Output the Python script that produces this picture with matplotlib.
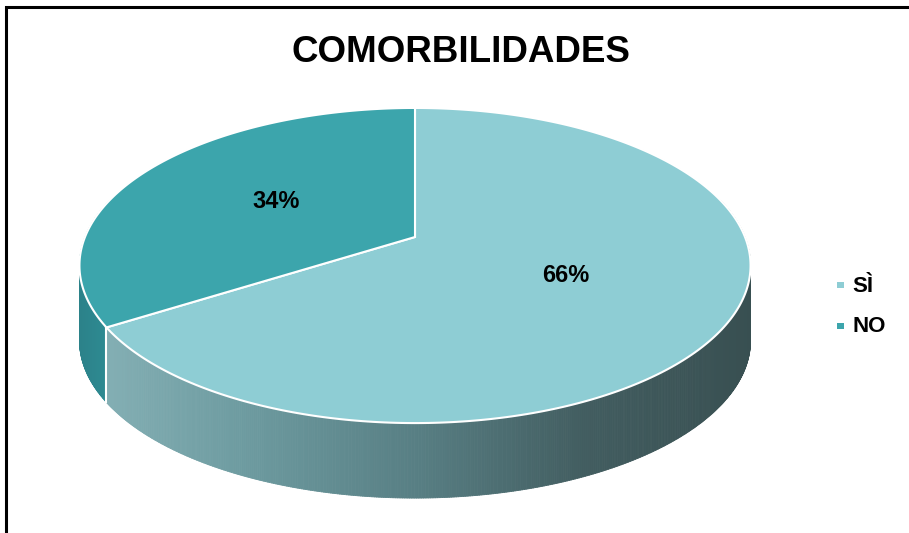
import numpy as np
import matplotlib
matplotlib.use("Agg")
import matplotlib.pyplot as plt
from matplotlib.patches import Polygon
from matplotlib.collections import PolyCollection
from matplotlib.colors import LinearSegmentedColormap

plt.rcParams['font.family'] = ['Liberation Sans', 'DejaVu Sans']

# Data
title = "COMORBILIDADES"
categories = ["SÌ", "NO"]
percentages = [66, 34]

top_colors = ["#8ecdd4", "#3ca5ac"]
side_cmaps = [
    LinearSegmentedColormap.from_list("si_side", ["#88b3b8", "#6d9ba0", "#587f84", "#425d60", "#384f51"]),
    LinearSegmentedColormap.from_list("no_side", ["#2b8088", "#31949b"]),
]

W, H, DPI = 909, 533, 100
fig = plt.figure(figsize=(W / DPI, H / DPI), dpi=DPI)
ax = fig.add_axes([0, 0, 1, 1])
ax.set_xlim(0, W)
ax.set_ylim(H, 0)
ax.axis("off")

# Perspective projection of a tilted disc
cx, cy = 415.0, 237.0
A, B, k = 330.0, 152.4, 0.181
depth = 75.0


def project(theta_deg, r=1.0, dz=0.0):
    t = np.radians(theta_deg)
    X = r * np.cos(t)
    Y = r * np.sin(t)
    w = 1 + k * Y
    return cx + A * X / w, cy - B * Y / w + dz


# Slice angle ranges: start at 12 o'clock, go clockwise
total = sum(percentages)
spans = []
start = 90.0
for p in percentages:
    sweep = 360.0 * p / total
    spans.append((start - sweep, start))
    start -= sweep

# Side wall: small quads sorted back to front
quads, qcolors, qdepth = [], [], []
x_lo, x_hi = cx - A * 1.03, cx + A * 1.03
for i, (a0, a1) in enumerate(spans):
    ths = np.linspace(a0, a1, max(int((a1 - a0) * 3), 4))
    for t0, t1 in zip(ths[:-1], ths[1:]):
        tm = 0.5 * (t0 + t1)
        if np.sin(np.radians(tm)) > 0.25:
            continue
        x0, y0 = project(t0)
        x1, y1 = project(t1)
        quads.append([(x0, y0), (x1, y1), (x1, y1 + depth), (x0, y0 + depth)])
        xm = 0.5 * (x0 + x1)
        frac = np.clip((xm - x_lo) / (x_hi - x_lo), 0, 1)
        if i == 1:
            frac = np.clip((xm - x_lo) / 60.0, 0, 1)
        qcolors.append(side_cmaps[i](frac))
        qdepth.append(np.sin(np.radians(tm)))
order = np.argsort(qdepth)[::-1]
pc = PolyCollection([quads[j] for j in order],
                    facecolors=[qcolors[j] for j in order],
                    edgecolors=[qcolors[j] for j in order],
                    linewidths=0.6)
ax.add_collection(pc)

# White seam on the side wall where the slices meet
seam = spans[0][0]
sx, sy = project(seam)
if np.sin(np.radians(seam)) < 0:
    ax.plot([sx, sx], [sy, sy + depth], color="white", lw=1.5, zorder=3)

# Top faces
for i, (a0, a1) in enumerate(spans):
    ths = np.linspace(a0, a1, 300)
    xs, ys = project(ths)
    pts = np.column_stack([np.r_[cx, xs], np.r_[cy, ys]])
    ax.add_patch(Polygon(pts, closed=True, facecolor=top_colors[i],
                         edgecolor="white", lw=1.5, zorder=4))

# Percentage labels
for i, (a0, a1) in enumerate(spans):
    mx, my = project(0.5 * (a0 + a1), r=0.5)
    ax.text(mx, my, f"{percentages[i]}%", ha="center", va="center",
            fontsize=17, fontweight="bold", color="black", zorder=6)

# Title
ax.text(461, 52, title, ha="center", va="center", fontsize=26.5,
        fontweight="bold", color="black")

# Legend
leg_y = [286, 327]
for i, lab in enumerate(categories):
    ax.scatter([840.5], [leg_y[i] - 1], marker="s", s=24, color=top_colors[i],
               edgecolors="none", zorder=6)
    ax.text(852, leg_y[i], lab, ha="left", va="center", fontsize=16,
            fontweight="bold", color="black")

# Chart frame
ax.plot([6, 6, W + 5], [H + 5, 7, 7], color="black", lw=2.2, solid_joinstyle="miter")

fig.savefig("out.png", dpi=DPI)
